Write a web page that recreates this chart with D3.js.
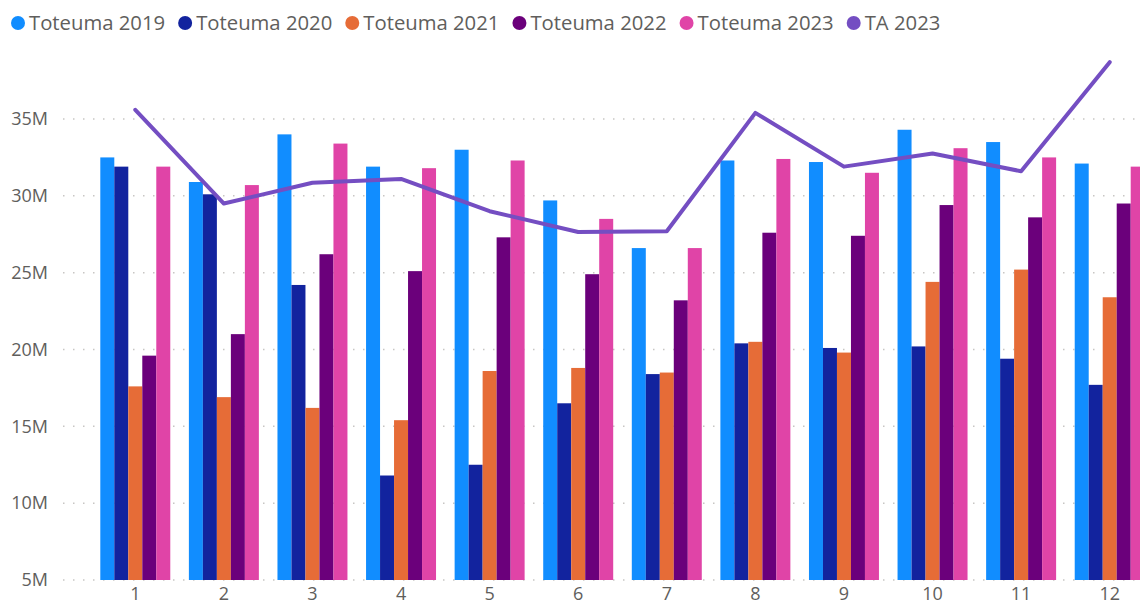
<!DOCTYPE html>
<html>
<head>
<meta charset="utf-8">
<script src="https://cdn.jsdelivr.net/npm/d3@7"></script>
<style>
  body { margin: 0; background: #fff; overflow: hidden; }
  svg { display: block; font-family: "Open Sans", "Noto Sans", sans-serif; }
</style>
</head>
<body>
<div id="chart"></div>
<script>
let width = 1140;
let height = 607;

// months on the x axis
const months = ["1", "2", "3", "4", "5", "6", "7", "8", "9", "10", "11", "12"];

// bar series (millions)
const toteuma2019 = [32.5, 30.9, 34.0, 31.9, 33.0, 29.7, 26.6, 32.3, 32.2, 34.3, 33.5, 32.1];
const toteuma2020 = [31.9, 30.1, 24.2, 11.8, 12.5, 16.5, 18.4, 20.4, 20.1, 20.2, 19.4, 17.7];
const toteuma2021 = [17.6, 16.9, 16.2, 15.4, 18.6, 18.8, 18.5, 20.5, 19.8, 24.4, 25.2, 23.4];
const toteuma2022 = [19.6, 21.0, 26.2, 25.1, 27.3, 24.9, 23.2, 27.6, 27.4, 29.4, 28.6, 29.5];
const toteuma2023 = [31.9, 30.7, 33.4, 31.8, 32.3, 28.5, 26.6, 32.4, 31.5, 33.1, 32.5, 31.9];

// line series (millions)
const ta2023 = [35.6, 29.5, 30.85, 31.1, 29.0, 27.65, 27.7, 35.4, 31.9, 32.75, 31.6, 38.7];

const yTicks = [5, 10, 15, 20, 25, 30, 35];

const barSeries = [
    { name: "Toteuma 2019", values: toteuma2019, color: "#118DFF" },
    { name: "Toteuma 2020", values: toteuma2020, color: "#12239E" },
    { name: "Toteuma 2021", values: toteuma2021, color: "#E66C37" },
    { name: "Toteuma 2022", values: toteuma2022, color: "#6B007B" },
    { name: "Toteuma 2023", values: toteuma2023, color: "#E044A7" }
];
const lineColor = "#744EC2";

let svg = d3.select("#chart")
    .append("svg")
    .attr("width", width)
    .attr("height", height);

let scaleX = d3.scaleBand()
    .domain(months)
    .range([91, 1154])
    .paddingInner(0.21)
    .paddingOuter(0.105);

let scaleSub = d3.scaleBand()
    .domain(barSeries.map(s => s.name))
    .range([0, scaleX.bandwidth()]);

let scaleY = d3.scaleLinear()
    .domain([5, 35])
    .range([580, 119]);

// dotted grid lines
svg.append("g")
    .selectAll("line")
    .data(yTicks)
    .join("line")
    .attr("x1", 63)
    .attr("x2", width)
    .attr("y1", d => scaleY(d))
    .attr("y2", d => scaleY(d))
    .attr("stroke", "#c8c6c4")
    .attr("stroke-width", 1.5)
    .attr("stroke-dasharray", "1.5,8.5");

// y axis labels
let yAxis = svg.append("g")
    .attr("transform", "translate(48,0)")
    .call(d3.axisLeft(scaleY).tickValues(yTicks).tickSize(0).tickPadding(0).tickFormat(d => d + "M"));
yAxis.select(".domain").remove();
yAxis.selectAll("text")
    .attr("fill", "#605E5C")
    .style("font-size", "18px")
    .style("font-family", "'Open Sans', 'Noto Sans', sans-serif");

// x axis labels
let xAxis = svg.append("g")
    .attr("transform", "translate(0,587)")
    .call(d3.axisBottom(scaleX).tickSize(0).tickPadding(0));
xAxis.select(".domain").remove();
xAxis.selectAll("text")
    .attr("fill", "#605E5C")
    .style("font-size", "18px")
    .style("font-family", "'Open Sans', 'Noto Sans', sans-serif");

// bars
svg.append("g")
    .selectAll("g")
    .data(barSeries)
    .join("g")
    .attr("fill", d => d.color)
    .selectAll("rect")
    .data(d => d.values.map((v, i) => ({ name: d.name, month: months[i], value: v })))
    .join("rect")
    .attr("x", d => scaleX(d.month) + scaleSub(d.name))
    .attr("width", scaleSub.bandwidth())
    .attr("y", d => scaleY(d.value))
    .attr("height", d => scaleY(5) - scaleY(d.value));

// TA 2023 line
svg.append("path")
    .datum(ta2023)
    .attr("fill", "none")
    .attr("stroke", lineColor)
    .attr("stroke-width", 4)
    .attr("stroke-linejoin", "round")
    .attr("stroke-linecap", "round")
    .attr("d", d3.line()
        .x((d, i) => scaleX(months[i]) + scaleX.bandwidth() / 2)
        .y(d => scaleY(d)));

// legend
const legendItems = barSeries.map(s => ({ name: s.name, color: s.color }))
    .concat([{ name: "TA 2023", color: lineColor }]);

let legend = svg.append("g").attr("transform", "translate(0,23)");
let legendX = 11;
legendItems.forEach(item => {
    let g = legend.append("g").attr("transform", "translate(" + legendX + ",0)");
    g.append("circle")
        .attr("cx", 7)
        .attr("cy", 0)
        .attr("r", 7)
        .attr("fill", item.color);
    let t = g.append("text")
        .attr("x", 18)
        .attr("dy", "0.35em")
        .attr("fill", "#605E5C")
        .style("font-size", "20.3px")
        .text(item.name);
    legendX += 18 + t.node().getComputedTextLength() + 13;
});
</script>
</body>
</html>
